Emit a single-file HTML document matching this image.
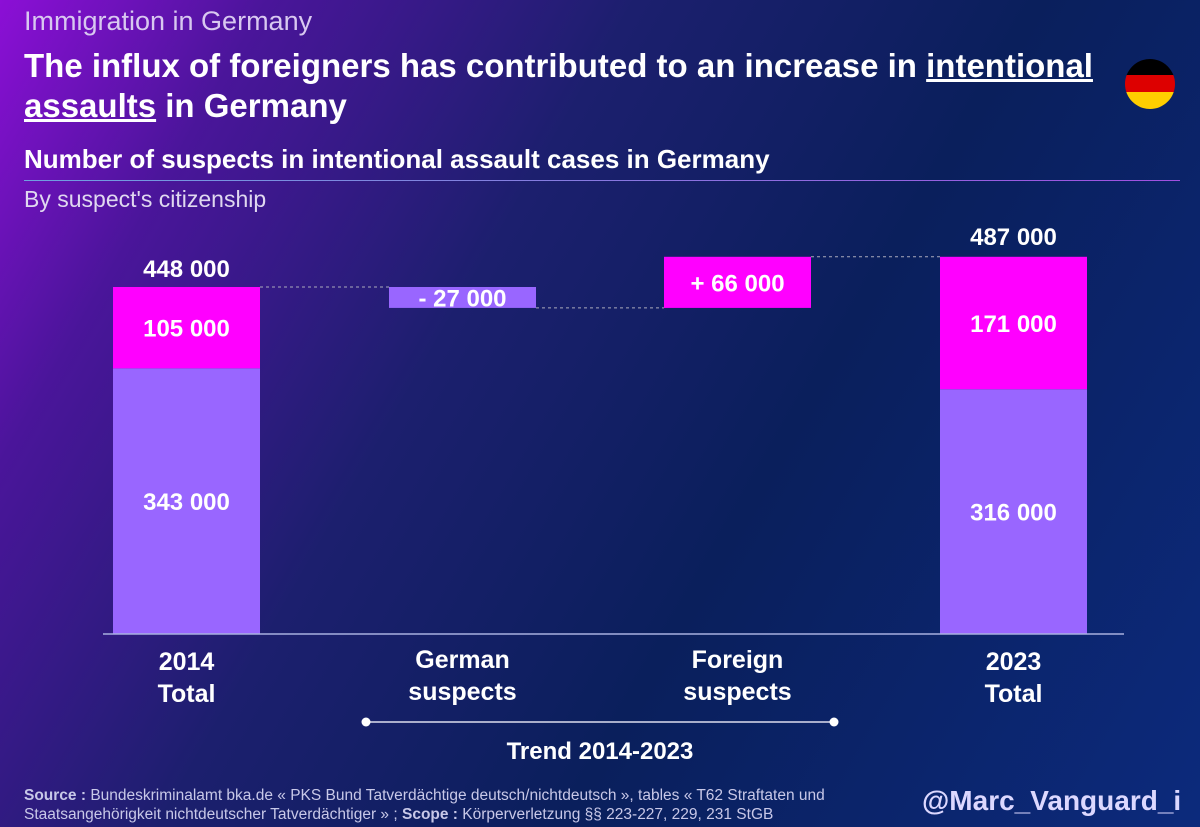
<!DOCTYPE html>
<html><head><meta charset="utf-8"><style>
html,body{margin:0;padding:0}
body{width:1200px;height:827px;overflow:hidden;font-family:"Liberation Sans",sans-serif;color:#fff;position:relative;
background:linear-gradient(120deg,#8c0fd6 0%,#4a159a 16%,#1c1f6e 38%,#0a1f5c 62%,#0c2a7c 100%);}
.abs{position:absolute}
</style></head><body>
<div class="abs" style="left:24px;top:6px;font-size:27px;color:#d8c8f0">Immigration in Germany</div>
<div class="abs" style="left:24px;top:46px;width:1100px;font-size:33px;font-weight:bold;line-height:40px">The influx of foreigners has contributed to an increase in <u>intentional assaults</u> in Germany</div>
<svg class="abs" style="left:1124px;top:58px" width="52" height="52"><defs><clipPath id="c"><circle cx="26" cy="26" r="25"/></clipPath></defs><g clip-path="url(#c)"><rect width="52" height="18" fill="#000"/><rect y="17" width="52" height="18" fill="#dd0000"/><rect y="34" width="52" height="18" fill="#ffce00"/></g></svg>
<div class="abs" style="left:24px;top:144px;font-size:26px;font-weight:bold">Number of suspects in intentional assault cases in Germany</div>
<div class="abs" style="left:24px;top:180px;width:1156px;height:1px;background:linear-gradient(90deg,#6fa0e0,#a050e0)"></div>
<div class="abs" style="left:24px;top:186px;font-size:23px;color:#e0d8f0">By suspect's citizenship</div>
<svg id="chart" class="abs" style="left:0;top:0" width="1200" height="827"></svg>
<div class="abs" style="left:24px;top:786px;font-size:15.5px;line-height:19px;color:#c8c8e8;white-space:nowrap"><b>Source :</b> Bundeskriminalamt bka.de « PKS Bund Tatverdächtige deutsch/nichtdeutsch », tables « T62 Straftaten und<br>Staatsangehörigkeit nichtdeutscher Tatverdächtiger » ; <b>Scope :</b> Körperverletzung §§ 223-227, 229, 231 StGB</div>
<div class="abs" style="left:922px;top:785px;font-size:28px;font-weight:bold;color:#dcd8ff">@Marc_Vanguard_i</div>
<script>
const categories=["2014\nTotal","German\nsuspects","Foreign\nsuspects","2023\nTotal"];
const germanValues=[343000,-27000,0,316000];
const foreignValues=[105000,0,66000,171000];
const totals=[448000,487000];
const svg=document.getElementById('chart');
const NS='http://www.w3.org/2000/svg';
const base=634,k=347/448000;
const y=v=>base-v*k;
const xs=[113,389,664,940],bw=147;
function el(t,a,txt){const e=document.createElementNS(NS,t);for(const n in a)e.setAttribute(n,a[n]);if(txt!=null)e.textContent=txt;svg.appendChild(e);return e;}
function fmt(v){return Math.abs(v).toString().replace(/\B(?=(\d{3})+(?!\d))/g,' ');}
const purple='#9966ff',mag='#ff00ff';
let g=germanValues[0],f=foreignValues[0];
let r=el('rect',{x:xs[0],y:y(g),width:bw,height:g*k,fill:purple});

r=el('rect',{x:xs[0],y:y(g+f),width:bw,height:f*k,fill:mag});

let t=el('text',{x:xs[0]+bw/2,y:(y(g)+base)/2+9,'text-anchor':'middle','font-size':24,'font-weight':'bold',fill:'#fff'},fmt(g));

t=el('text',{x:xs[0]+bw/2,y:(y(g)+y(g+f))/2+9,'text-anchor':'middle','font-size':24,'font-weight':'bold',fill:'#fff'},fmt(f));

t=el('text',{x:xs[0]+bw/2,y:y(totals[0])-10,'text-anchor':'middle','font-size':24,'font-weight':'bold',fill:'#fff'},fmt(totals[0]));

let start=totals[0],dg=germanValues[1],end1=start+dg;
let ln=el('line',{x1:xs[0]+bw,x2:xs[1],y1:y(start),y2:y(start),stroke:'#aab','stroke-dasharray':'3,3','stroke-width':1});

r=el('rect',{x:xs[1],y:y(Math.max(start,end1)),width:bw,height:Math.abs(dg)*k,fill:purple});

t=el('text',{x:xs[1]+bw/2,y:(y(start)+y(end1))/2+9,'text-anchor':'middle','font-size':24,'font-weight':'bold',fill:'#fff'},(dg<0?'- ':'+ ')+fmt(dg));

let df=foreignValues[2],end2=end1+df;
ln=el('line',{x1:xs[1]+bw,x2:xs[2],y1:y(end1),y2:y(end1),stroke:'#aab','stroke-dasharray':'3,3','stroke-width':1});

r=el('rect',{x:xs[2],y:y(Math.max(end1,end2)),width:bw,height:Math.abs(df)*k,fill:mag});

t=el('text',{x:xs[2]+bw/2,y:(y(end1)+y(end2))/2+9,'text-anchor':'middle','font-size':24,'font-weight':'bold',fill:'#fff'},(df<0?'- ':'+ ')+fmt(df));

ln=el('line',{x1:xs[2]+bw,x2:xs[3],y1:y(totals[1]),y2:y(totals[1]),stroke:'#aab','stroke-dasharray':'3,3','stroke-width':1});

g=germanValues[3];f=foreignValues[3];
r=el('rect',{x:xs[3],y:y(g),width:bw,height:g*k,fill:purple});

r=el('rect',{x:xs[3],y:y(g+f),width:bw,height:f*k,fill:mag});

t=el('text',{x:xs[3]+bw/2,y:(y(g)+base)/2+9,'text-anchor':'middle','font-size':24,'font-weight':'bold',fill:'#fff'},fmt(g));

t=el('text',{x:xs[3]+bw/2,y:(y(g)+y(g+f))/2+9,'text-anchor':'middle','font-size':24,'font-weight':'bold',fill:'#fff'},fmt(f));

t=el('text',{x:xs[3]+bw/2,y:y(totals[1])-12,'text-anchor':'middle','font-size':24,'font-weight':'bold',fill:'#fff'},fmt(totals[1]));

ln=el('line',{x1:103,x2:1124,y1:base,y2:base,stroke:'#a8b0e0','stroke-width':1.5});

categories.forEach((c,i)=>{const parts=c.split('\n');const off=(i==1||i==2)?0:2;
parts.forEach((p,j)=>{const tt=el('text',{x:xs[i]+bw/2,y:668+off+j*32,'text-anchor':'middle','font-size':25,'font-weight':'bold',fill:'#fff'},p);
});});
ln=el('line',{x1:366,x2:834,y1:722,y2:722,stroke:'#dde','stroke-width':1.5});

[366,834].forEach(cx=>{const c=el('circle',{cx:cx,cy:722,r:4.5,fill:'#fff'});});
t=el('text',{x:600,y:759,'text-anchor':'middle','font-size':24,'font-weight':'bold',fill:'#fff'},'Trend 2014-2023');

</script>
</body></html>
